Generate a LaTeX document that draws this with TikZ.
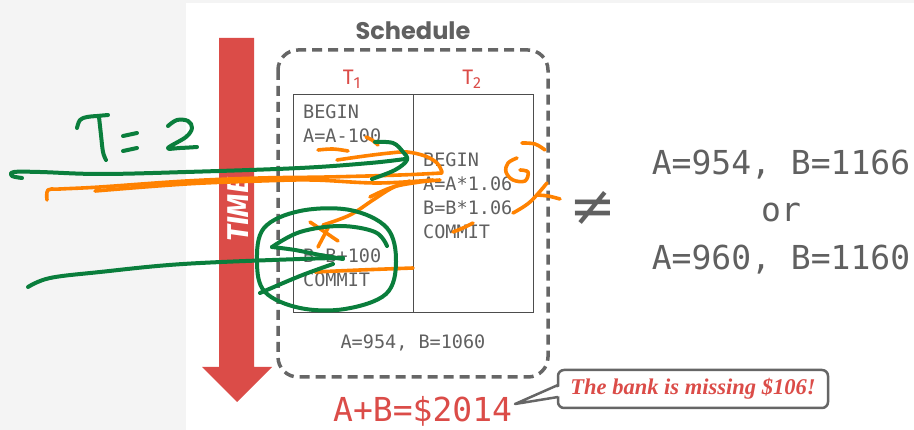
\documentclass[tikz,border=0pt]{standalone}
\usepackage{fontspec}
\newfontfamily\monof{DejaVu Sans Mono}
\newfontfamily\headf{Poppins}
\newfontfamily\symf{DejaVu Sans}
\newfontfamily\calf{Liberation Serif}
\newfontfamily\labf{Fira Sans}
\definecolor{bgG}{HTML}{F4F4F4}
\definecolor{slRed}{HTML}{DB4C48}
\definecolor{txG}{HTML}{606060}
\definecolor{dsG}{HTML}{666666}
\definecolor{scrG}{HTML}{0A7E3C}
\definecolor{scrO}{HTML}{FF8200}
\tikzset{
  mono/.style={font=\monof\fontsize{18.5}{20}\selectfont, text=txG, inner sep=0pt, anchor=base west},
  big/.style={font=\monof\fontsize{33}{36}\selectfont, text=txG, inner sep=0pt, anchor=base},
  tlab/.style={font=\labf\fontsize{21}{24}\selectfont, text=slRed, inner sep=0pt, anchor=base},
  gstroke/.style={draw=scrG, line width=4pt, line cap=round, line join=round},
  ostroke/.style={draw=scrO, line width=3.6pt, line cap=round, line join=round},
  callbd/.style={draw=dsG, line width=2.5pt}
}
\begin{document}
\begin{tikzpicture}[x=1pt,y=-1pt]
\useasboundingbox (0,0) rectangle (914,430);
\fill[bgG] (0,0) rectangle (914,430);
\fill[white] (186,3) rectangle (914,430);

% time arrow
\fill[slRed] (219,38) -- (254,38) -- (254,367) -- (272,367) -- (237,402) -- (202,367) -- (219,367) -- cycle;
\node[rotate=90, text=white, font=\labf\bfseries\itshape\fontsize{30}{31}\selectfont, inner sep=0pt] (time) at (238,210) {TIME};

% schedule box
\node[font=\headf\bfseries\fontsize{24}{26}\selectfont, text=txG, inner sep=0pt] (sched) at (413,31) {Schedule};
\draw[dsG, line width=3.5pt, dash pattern=on 10pt off 6pt, rounded corners=20pt] (278,50) rectangle (548,377);
\node[tlab] (t1) at (352,85) {T\textsubscript{\fontsize{16}{18}\selectfont 1}};
\node[tlab] (t2) at (472,85) {T\textsubscript{\fontsize{16}{18}\selectfont 2}};
\draw[txG!80!black, line width=1pt] (293,95) rectangle (533,313);
\draw[txG!80!black, line width=1pt] (413,95) -- (413,313);

\node[mono] (a1) at (303,119) {BEGIN};
\node[mono] (a2) at (303,143) {A=A-100};
\node[mono] (b1) at (423,167) {BEGIN};
\node[mono] (b2) at (423,191) {A=A*1.06};
\node[mono] (b3) at (423,215) {B=B*1.06};
\node[mono] (b4) at (423,239) {COMMIT};
\node[mono] (a3) at (303,263) {B=B+100};
\node[mono] (a4) at (303,287) {COMMIT};
\node[mono, anchor=base] (res) at (413,349) {A=954, B=1060};

% not equal and alternatives
\node[font=\symf\fontsize{56}{58}\selectfont, text=txG, inner sep=0pt] (neq) at (593,208) {≠};
\node[big] (r1) at (781,175) {A=954, B=1166};
\node[big] (r2) at (781,222) {or};
\node[big] (r3) at (781,270) {A=960, B=1160};

% sum and callout
\node[font=\monof\fontsize{33}{36}\selectfont, text=slRed, inner sep=0pt, anchor=base west] (sum) at (333,422) {A+B=\$2014};
\node[callbd, fill=white, rounded corners=6pt, minimum width=270pt, minimum height=38pt, inner sep=0pt] (call) at (693,389) {};
\node[font=\calf\bfseries\itshape\fontsize{22.5}{24}\selectfont, text=slRed, inner sep=0pt] (calltxt) at (call.center) {The bank is missing \$106!};
\coordinate (tb1) at (558,385);
\coordinate (tb2) at (558,397);
\coordinate (tip) at (515,404);
\fill[white] (561,386) -- (tip) -- (561,396) -- cycle;
\draw[callbd, line join=round] (tb1) -- (tip) -- (tb2);

% ---- orange scribbles ----
\draw[ostroke] plot[smooth, tension=0.6] coordinates {(47,200) (48,190) (60,189) (100,187) (186,181) (260,178) (327,177) (400,175) (442,173)};
\draw[ostroke] plot[smooth, tension=0.6] coordinates {(95,191) (186,184) (260,181) (313,180) (377,183) (433,180)};
\draw[ostroke] plot[smooth, tension=0.6] coordinates {(337,160) (365,156) (390,153) (407,152) (425,156) (437,163) (442,172)};
\draw[ostroke] plot[smooth, tension=0.6] coordinates {(370,197) (393,187) (420,182) (440,180)};
\draw[ostroke] plot[smooth, tension=0.6] coordinates {(323,225) (350,215) (373,200) (392,188) (410,181)};
\draw[ostroke] (310,222) -- (338,241);
\draw[ostroke] (318,247) -- (328,228);
\draw[ostroke] plot[smooth, tension=0.6] coordinates {(318,150) (333,149) (348,151)};
\draw[ostroke] plot[smooth, tension=0.6] coordinates {(366,137) (372,140) (378,145)};
\draw[ostroke] plot[smooth, tension=0.6] coordinates {(315,272) (360,270) (413,268)};
\draw[ostroke] plot[smooth, tension=0.6] coordinates {(522,143) (535,144) (545,150)};
\draw[ostroke] plot[smooth, tension=0.6] coordinates {(517,158) (508,163) (506,172) (513,180) (525,181) (528,172) (520,170)};
\draw[ostroke] plot[smooth, tension=0.6] coordinates {(513,213) (530,202) (547,183)};
\draw[ostroke] plot[smooth, tension=0.6] coordinates {(537,195) (548,196) (560,199)};
\draw[ostroke] plot[smooth, tension=0.6] coordinates {(453,232) (463,228) (473,223)};

% ---- green scribbles ----
\draw[gstroke] plot[smooth, tension=0.6] coordinates {(77,128) (80,120) (87,117) (97,116) (108,115)};
\draw[gstroke] plot[smooth, tension=0.6] coordinates {(99,117) (101,135) (103,152) (106,160)};
\draw[gstroke] (123,136) -- (137,133);
\draw[gstroke] (123,151) -- (137,148);
\draw[gstroke] plot[smooth, tension=0.6] coordinates {(168,126) (177,120) (188,121) (192,128) (186,137) (168,148) (180,148) (197,147)};
\draw[gstroke] plot[smooth, tension=0.6] coordinates {(22,178) (12,176) (14,172) (40,172) (100,174) (186,172) (300,168) (370,163) (405,159)};
\draw[gstroke] plot[smooth, tension=0.6] coordinates {(375,142) (393,143) (403,152) (407,160) (395,170) (372,179)};
\draw[gstroke] plot[smooth, tension=0.6] coordinates {(28,287) (50,278) (100,272) (183,264) (300,259) (343,258)};
\draw[gstroke] plot[smooth, tension=0.6] coordinates {(343,259) (320,255) (295,250) (272,247)};
\draw[gstroke] plot[smooth, tension=0.6] coordinates {(333,264) (300,276) (260,293)};
\draw[gstroke] plot[smooth cycle, tension=0.6] coordinates {(257,262) (264,228) (300,211) (350,210) (387,228) (396,262) (386,294) (345,309) (300,308) (265,292)};
\draw[gstroke] plot[smooth, tension=0.6] coordinates {(272,247) (300,232) (340,226) (375,232) (387,246)};
\end{tikzpicture}
\end{document}
